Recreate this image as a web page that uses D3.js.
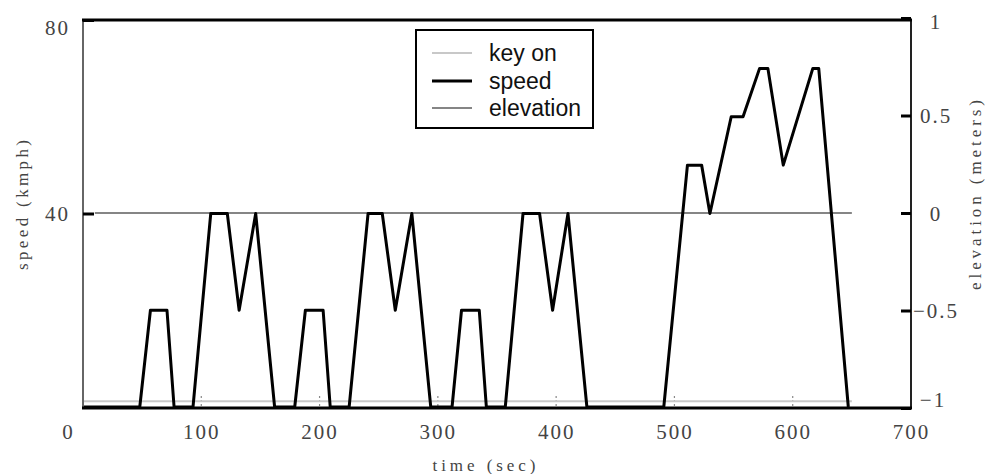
<!DOCTYPE html>
<html>
<head>
<meta charset="utf-8">
<script src="https://cdn.jsdelivr.net/npm/d3@7"></script>
<style>
  html, body { margin: 0; padding: 0; background: #fff; }
  svg { display: block; }
  .num { font-family: "Liberation Serif", "DejaVu Serif", serif; font-size: 21px; fill: #444; letter-spacing: 2px; }
  .title { font-family: "Liberation Serif", "DejaVu Serif", serif; font-size: 17px; fill: #444; }
  .leg { font-family: "Liberation Sans", Arial, sans-serif; font-size: 23px; fill: #111; }
</style>
</head>
<body>
<svg id="chart" width="988" height="474"></svg>
<script>
// ---- data ----
const timeSec = [0,48,57,71,77,93,108,122,132,146,162,179,188,203,209,225,241,253,264,278,294,312,320,335,341,357,372,386,397,410,426,491,511,523,530,548,558,572,579,592,617,622,647];
const speedKmph = [0,0,20,20,0,0,40,40,20,40,0,0,20,20,0,0,40,40,20,40,0,0,20,20,0,0,40,40,20,40,0,0,50,50,40,60,60,70,70,50,70,70,0];
const keyOnTime = [0, 650];
const keyOnValue = [1.2, 1.2];
const elevTime = [10, 650];
const elevMeters = [0, 0];
const xTicks = [0,100,200,300,400,500,600,700];
const xTickLabels = ["0","100","200","300","400","500","600","700"];
const speedTicks = [40, 80];
const speedTickLabels = ["40","80"];
const elevTicks = [-1,-0.5,0,0.5,1];
const elevTickLabels = ["\u22121","\u22120.5","0","0.5","1"];
const seriesNames = ["key on","speed","elevation"];
const seriesColors = ["#c8c8c8","#000000","#858585"];

// ---- scales ----
const svg = d3.select("#chart");
const x = d3.scaleLinear().domain([0,700]).range([83,911]);
const ySpeed = d3.scaleLinear().domain([0,80]).range([407,20]);
const yElev = d3.scaleLinear().domain([-1,1]).range([408,18]);

// ---- minor x ticks (faint, inside) ----
svg.append("g").selectAll("line").data(xTicks.slice(1,7)).join("line")
  .attr("x1", d => x(d)).attr("x2", d => x(d))
  .attr("y1", 396).attr("y2", 407)
  .attr("stroke", "#888").attr("stroke-width", 1.2).attr("stroke-dasharray", "2,2");

// ---- series ----
const lineKey = d3.line().x(d => x(d[0])).y(d => ySpeed(d[1]));
svg.append("path").datum(keyOnTime.map((t,i) => [t, keyOnValue[i]]))
  .attr("d", lineKey).attr("fill","none").attr("stroke", seriesColors[0]).attr("stroke-width", 2);

const lineElev = d3.line().x(d => x(d[0])).y(d => yElev(d[1]));
svg.append("path").datum(elevTime.map((t,i) => [t, elevMeters[i]]))
  .attr("d", lineElev).attr("fill","none").attr("stroke", seriesColors[2]).attr("stroke-width", 2);

svg.append("path").datum(timeSec.map((t,i) => [t, speedKmph[i]]))
  .attr("d", lineKey).attr("fill","none").attr("stroke", seriesColors[1])
  .attr("stroke-width", 3).attr("stroke-linejoin","round");

// ---- frame ----
svg.append("line").attr("x1", x(0)).attr("x2", x(0)).attr("y1", 19).attr("y2", 409)
  .attr("stroke", "#666").attr("stroke-width", 2);
svg.append("line").attr("x1", x(700)).attr("x2", x(700)).attr("y1", 19).attr("y2", 409)
  .attr("stroke", "#222").attr("stroke-width", 2);
svg.append("line").attr("x1", 82).attr("x2", 912).attr("y1", 20).attr("y2", 20)
  .attr("stroke", "#000").attr("stroke-width", 3);
svg.append("line").attr("x1", 82).attr("x2", 912).attr("y1", 408).attr("y2", 408)
  .attr("stroke", "#000").attr("stroke-width", 3);

// ---- x axis ----
const xAxis = d3.axisBottom(x).tickValues(xTicks).tickSize(0).tickPadding(0)
  .tickFormat((d,i) => xTickLabels[i]);
const gx = svg.append("g").attr("transform", "translate(0,432)").call(xAxis);
gx.select(".domain").remove();
gx.selectAll("text").attr("class","num").attr("dy", null)
  .attr("dominant-baseline","central").attr("fill", null)
  .attr("x", d => d === 0 ? -15 : 0);
gx.attr("font-size", null).attr("font-family", null);

// ---- left speed axis ----
const yAxisL = d3.axisLeft(ySpeed).tickValues(speedTicks).tickSize(-11).tickPadding(13)
  .tickFormat((d,i) => speedTickLabels[i]);
const gl = svg.append("g").attr("transform", `translate(${x(0)},0)`).call(yAxisL);
gl.select(".domain").remove();
gl.selectAll("line").attr("stroke","#000").attr("stroke-width",3);
gl.selectAll("text").attr("class","num").attr("fill", null).attr("dy", null)
  .attr("dominant-baseline","central")
  .attr("transform", d => d === 80 ? "translate(0,7)" : null);
gl.attr("font-size", null).attr("font-family", null);

// ---- right elevation axis ----
const yAxisR = d3.axisRight(yElev).tickValues(elevTicks).tickSize(-10).tickPadding(25)
  .tickFormat((d,i) => elevTickLabels[i]);
const gr = svg.append("g").attr("transform", `translate(${x(700)},0)`).call(yAxisR);
gr.select(".domain").remove();
gr.selectAll("line").attr("stroke","#000").attr("stroke-width",3);
gr.selectAll("text").attr("class","num").attr("fill", null).attr("dy", null)
  .attr("text-anchor","middle").attr("dominant-baseline","central")
  .attr("transform", d => d === 1 ? "translate(0,3)" : (d === -1 ? "translate(-3,-9)" : null));
gr.attr("font-size", null).attr("font-family", null);

// ---- axis titles ----
svg.append("text").attr("class","title")
  .attr("transform","translate(22,205) rotate(-90)")
  .attr("text-anchor","middle").attr("dominant-baseline","central")
  .attr("textLength", 130).attr("lengthAdjust","spacing")
  .text("speed (kmph)");
svg.append("text").attr("class","title")
  .attr("transform","translate(975,195) rotate(-90)")
  .attr("text-anchor","middle").attr("dominant-baseline","central")
  .attr("textLength", 190).attr("lengthAdjust","spacing")
  .text("elevation (meters)");
svg.append("text").attr("class","title")
  .attr("x", 484).attr("y", 465)
  .attr("text-anchor","middle").attr("dominant-baseline","central")
  .attr("textLength", 103).attr("lengthAdjust","spacing")
  .text("time (sec)");

// ---- legend ----
const leg = svg.append("g");
leg.append("rect").attr("x", 416).attr("y", 30).attr("width", 177).attr("height", 98)
  .attr("fill","#fff").attr("stroke","#000").attr("stroke-width", 2);
const rowY = [53, 81, 108];
const rowW = [2, 3, 2];
seriesNames.forEach((name, i) => {
  leg.append("line").attr("x1", 432).attr("x2", 472).attr("y1", rowY[i]).attr("y2", rowY[i])
    .attr("stroke", seriesColors[i]).attr("stroke-width", rowW[i]);
  leg.append("text").attr("class","leg").attr("x", 489).attr("y", rowY[i])
    .attr("dominant-baseline","central").text(name);
});
</script>
</body>
</html>
